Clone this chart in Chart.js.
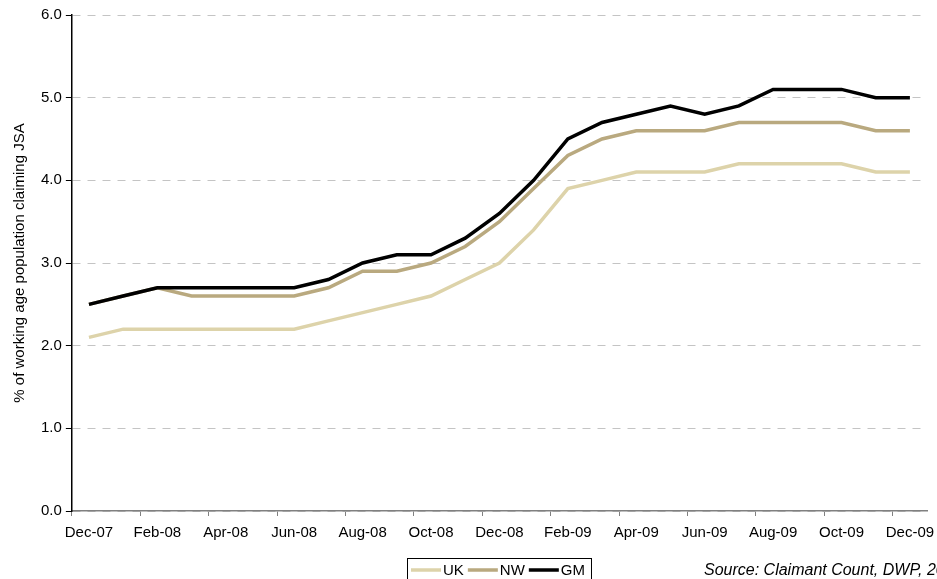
<!DOCTYPE html>
<html lang="en">
<head>
  <meta charset="UTF-8">
  <title>JSA claimants</title>
  <script src="https://cdn.jsdelivr.net/npm/chart.js"></script>
  <style>
    body {
      margin: 0;
      background: #ffffff;
    }

    .wrap {
      position: relative;
      width: 937px;
      height: 579px;
    }
  </style>
</head>
<body>
  <div class="wrap">
    <canvas id="jsaChart" width="937" height="579"></canvas>
  </div>

  <script>
    const months = ['Dec-07', 'Jan-08', 'Feb-08', 'Mar-08', 'Apr-08', 'May-08', 'Jun-08', 'Jul-08', 'Aug-08',
      'Sep-08', 'Oct-08', 'Nov-08', 'Dec-08', 'Jan-09', 'Feb-09', 'Mar-09', 'Apr-09', 'May-09', 'Jun-09',
      'Jul-09', 'Aug-09', 'Sep-09', 'Oct-09', 'Nov-09', 'Dec-09'];

    const ukValues = [2.1, 2.2, 2.2, 2.2, 2.2, 2.2, 2.2, 2.3, 2.4, 2.5, 2.6, 2.8, 3.0,
      3.4, 3.9, 4.0, 4.1, 4.1, 4.1, 4.2, 4.2, 4.2, 4.2, 4.1, 4.1];
    const nwValues = [2.5, 2.6, 2.7, 2.6, 2.6, 2.6, 2.6, 2.7, 2.9, 2.9, 3.0, 3.2, 3.5,
      3.9, 4.3, 4.5, 4.6, 4.6, 4.6, 4.7, 4.7, 4.7, 4.7, 4.6, 4.6];
    const gmValues = [2.5, 2.6, 2.7, 2.7, 2.7, 2.7, 2.7, 2.8, 3.0, 3.1, 3.1, 3.3, 3.6,
      4.0, 4.5, 4.7, 4.8, 4.9, 4.8, 4.9, 5.1, 5.1, 5.1, 5.0, 5.0];

    const seriesNames = ['UK', 'NW', 'GM'];
    const seriesColors = ['#ddd3aa', '#b9a97f', '#000000'];

    const yTitle = '% of working age population claiming JSA';
    const sourceNote = 'Source: Claimant Count, DWP, 2010';

    const fontFamily = '"Liberation Sans", Arial, sans-serif';

    // boxed legend + source line, drawn by hand so they sit where the original has them
    const legendAndSource = {
      id: 'legendAndSource',
      afterDraw(chart) {
        const ctx = chart.ctx;
        ctx.save();
        ctx.font = '15px ' + fontFamily;
        ctx.textBaseline = 'middle';

        const lineLen = 30;
        const gap = 2;
        const itemGap = 4;
        let total = 0;
        chart.data.datasets.forEach(ds => {
          total += lineLen + gap + ctx.measureText(ds.label).width + itemGap;
        });
        total -= itemGap;

        const boxLeft = 407;
        const boxTop = 558;
        const boxW = total + 10;
        const boxH = 24;
        ctx.strokeStyle = '#000';
        ctx.lineWidth = 1;
        ctx.strokeRect(boxLeft + 0.5, boxTop + 0.5, boxW, boxH);

        let x = boxLeft + 4;
        const y = boxTop + 12;
        chart.data.datasets.forEach(ds => {
          ctx.strokeStyle = ds.borderColor;
          ctx.lineWidth = ds.borderWidth;
          ctx.beginPath();
          ctx.moveTo(x, y);
          ctx.lineTo(x + lineLen, y);
          ctx.stroke();
          x += lineLen + gap;
          ctx.fillStyle = '#000';
          ctx.textAlign = 'left';
          ctx.fillText(ds.label, x, y + 1);
          x += ctx.measureText(ds.label).width + itemGap;
        });

        ctx.font = 'italic 16px ' + fontFamily;
        ctx.fillText(sourceNote, 704, y + 1);
        ctx.restore();
      }
    };

    // GM sits on top where the lines overlap, UK underneath
    const datasets = [ukValues, nwValues, gmValues].map((vals, i) => ({
      label: seriesNames[i],
      data: vals,
      order: 2 - i,
      borderColor: seriesColors[i],
      backgroundColor: seriesColors[i],
      borderWidth: 3.5,
      pointRadius: 0,
      tension: 0,
      fill: false
    }));

    new Chart(document.getElementById('jsaChart'), {
      type: 'line',
      data: {
        labels: months,
        datasets: datasets
      },
      options: {
        responsive: false,
        animation: false,
        layout: {
          padding: { left: 11, right: 10, top: 15, bottom: 29 }
        },
        plugins: {
          legend: { display: false },
          tooltip: { enabled: false }
        },
        scales: {
          x: {
            offset: true,
            afterFit: scale => {
              scale.paddingLeft = 0;
              scale.paddingRight = 0;
            },
            grid: {
              offset: true,
              drawOnChartArea: false,
              drawTicks: true,
              tickLength: 5,
              color: ctx => (ctx.index % 2 === 0 ? '#808080' : 'rgba(0,0,0,0)')
            },
            border: { color: '#808080', width: 1.5 },
            ticks: {
              autoSkip: false,
              maxRotation: 0,
              padding: 8,
              color: '#000',
              font: { family: fontFamily, size: 15 },
              callback: (v, i) => (i % 2 === 0 ? months[i] : '')
            }
          },
          y: {
            min: 0,
            max: 6,
            afterFit: scale => {
              scale.paddingTop = 0;
              scale.paddingBottom = 0;
            },
            grid: {
              color: '#c4c4c4',
              lineWidth: 1,
              tickColor: '#000',
              tickLength: 6,
              tickBorderDash: []
            },
            border: { color: '#000', width: 1.5, dash: [8, 7] },
            ticks: {
              stepSize: 1,
              padding: 4,
              color: '#000',
              font: { family: fontFamily, size: 15 },
              callback: v => v.toFixed(1)
            },
            title: {
              display: true,
              text: yTitle,
              color: '#000',
              font: { family: fontFamily, size: 15 },
              padding: { top: 0, bottom: 8 }
            }
          }
        }
      },
      plugins: [legendAndSource]
    });
  </script>
</body>
</html>
